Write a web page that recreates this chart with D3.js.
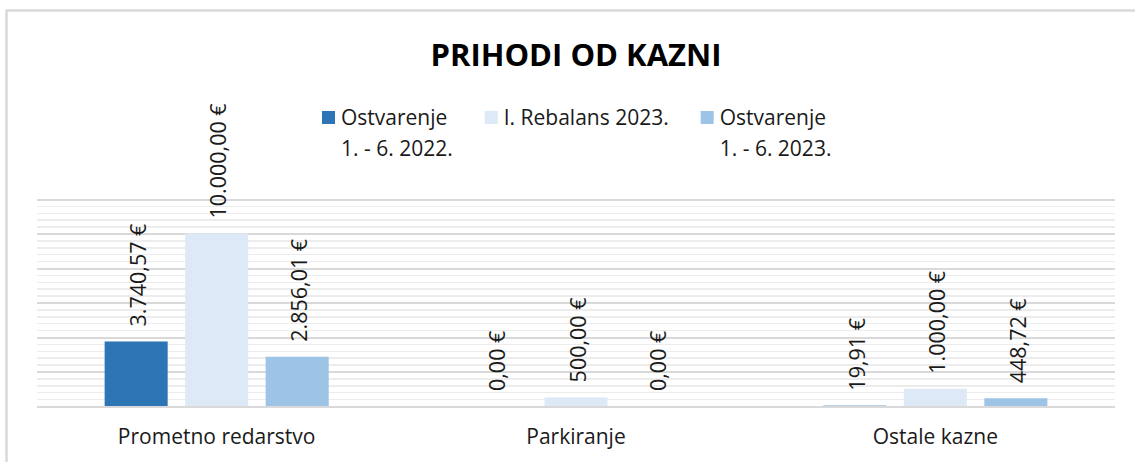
<!DOCTYPE html>
<html>
<head>
<meta charset="utf-8">
<script src="https://cdn.jsdelivr.net/npm/d3@7"></script>
<style>
  body { margin: 0; background: #fff; }
  text { font-family: 'Open Sans', sans-serif; fill: #1a1a1a; }
  .grid line { shape-rendering: crispEdges; }
  .grid .domain { display: none; }
</style>
</head>
<body>
<div id="app"></div>
<script>
const categories = ['Prometno redarstvo', 'Parkiranje', 'Ostale kazne'];
const seriesNames = [['Ostvarenje', '1. - 6. 2022.'], ['I. Rebalans 2023.'], ['Ostvarenje', '1. - 6. 2023.']];
const ostvarenje2022 = [3740.57, 0, 19.91];
const rebalans2023 = [10000, 500, 1000];
const ostvarenje2023 = [2856.01, 0, 448.72];
const seriesColors = ['#2e75b6', '#dde9f6', '#9dc3e6'];
const yMax = 12000;

const W = 1135, H = 462;
const svg = d3.select('#app').append('svg')
    .attr('width', W)
    .attr('height', H);

// chart frame (cropped on right and bottom)
svg.append('rect')
    .attr('x', 6.5).attr('y', 10.5)
    .attr('width', 1300).attr('height', 600)
    .attr('fill', 'none')
    .attr('stroke', '#d9d9d9')
    .attr('stroke-width', 2.5);

svg.append('text')
    .attr('x', 576)
    .attr('y', 66)
    .attr('text-anchor', 'middle')
    .attr('font-size', 31)
    .attr('font-weight', 'bold')
    .style('fill', '#000')
    .text('PRIHODI OD KAZNI');

const plot = { left: 37, right: 1115, top: 199, bottom: 406 };

const y = d3.scaleLinear()
    .domain([0, yMax])
    .range([plot.bottom, plot.top]);

const x0 = d3.scaleBand()
    .domain(categories)
    .range([plot.left, plot.right]);

const x1 = d3.scaleBand()
    .domain([0, 1, 2])
    .range([0, x0.bandwidth()])
    .paddingInner(0.217)
    .paddingOuter(0.84);

// minor grid
svg.append('g')
    .attr('class', 'grid')
    .attr('transform', `translate(${plot.left},0)`)
    .call(d3.axisLeft(y)
      .tickValues(d3.range(0, yMax + 1, 400))
      .tickSize(-(plot.right - plot.left))
      .tickFormat(''))
    .selectAll('line')
      .attr('stroke', '#ececec')
      .attr('stroke-width', 1.5);

// major grid
svg.append('g')
    .attr('class', 'grid')
    .attr('transform', `translate(${plot.left},0)`)
    .call(d3.axisLeft(y)
      .tickValues(d3.range(0, yMax + 1, 2000))
      .tickSize(-(plot.right - plot.left))
      .tickFormat(''))
    .selectAll('line')
      .attr('stroke', '#d9d9d9')
      .attr('stroke-width', 2);

const series = [ostvarenje2022, rebalans2023, ostvarenje2023];
const rows = categories.map((c, i) => ({ cat: c, vals: series.map(s => s[i]) }));

const hr = d3.formatLocale({ decimal: ',', thousands: '.', grouping: [3], currency: ['', ''] });
const fmt = v => hr.format(',.2f')(v) + ' €';

const groups = svg.selectAll('.cat')
    .data(rows)
    .enter().append('g')
    .attr('class', 'cat')
    .attr('transform', d => `translate(${x0(d.cat)},0)`);

groups.selectAll('rect')
    .data(d => d.vals.map((v, k) => ({ v, k })))
    .enter().append('rect')
    .attr('x', d => x1(d.k))
    .attr('y', d => y(d.v))
    .attr('width', x1.bandwidth())
    .attr('height', d => y(0) - y(d.v))
    .attr('fill', d => seriesColors[d.k]);

groups.selectAll('.lbl')
    .data(d => d.vals.map((v, k) => ({ v, k })))
    .enter().append('text')
    .attr('class', 'lbl')
    .attr('font-size', 21.5)
    .attr('text-anchor', 'start')
    .attr('dy', '0.36em')
    .attr('transform', d => `translate(${x1(d.k) + x1.bandwidth() / 2 + 2},${y(d.v) - 15}) rotate(-90)`)
    .text(d => fmt(d.v));

// category labels
svg.append('g')
    .selectAll('text')
    .data(categories)
    .enter().append('text')
    .attr('x', d => x0(d) + x0.bandwidth() / 2)
    .attr('y', 444)
    .attr('text-anchor', 'middle')
    .attr('font-size', 21)
    .text(d => d);

// legend
const legend = svg.append('g').attr('class', 'legend');
let lx = 322;
seriesNames.forEach((lines, i) => {
  const item = legend.append('g').attr('transform', `translate(${lx},0)`);
  item.append('rect')
      .attr('x', 0).attr('y', 111)
      .attr('width', 13).attr('height', 13)
      .attr('fill', seriesColors[i]);
  let maxW = 0;
  lines.forEach((t, j) => {
    const tx = item.append('text')
        .attr('x', 19)
        .attr('y', 125 + j * 31)
        .attr('font-size', 21)
        .text(t);
    maxW = Math.max(maxW, tx.node().getComputedTextLength());
  });
  lx += 19 + maxW + 32;
});
</script>
</body>
</html>
